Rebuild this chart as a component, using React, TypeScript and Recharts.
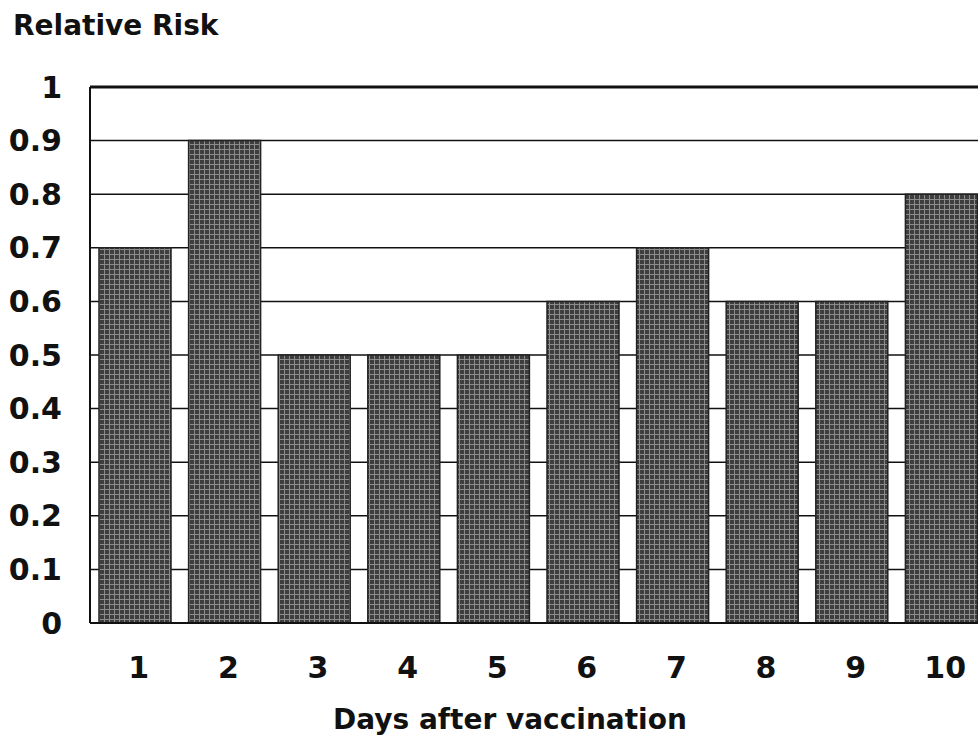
import { Bar, BarChart, CartesianGrid, ReferenceLine, XAxis, YAxis } from 'recharts';

const days = ['1', '2', '3', '4', '5', '6', '7', '8', '9', '10'];
const relativeRisk = [0.7, 0.9, 0.5, 0.5, 0.5, 0.6, 0.7, 0.6, 0.6, 0.8];
const yTicks = [0, 0.1, 0.2, 0.3, 0.4, 0.5, 0.6, 0.7, 0.8, 0.9, 1];

const rows = days.map((day, i) => ({ day, risk: relativeRisk[i] }));

const font = '"DejaVu Sans", "Liberation Sans", Arial, sans-serif';
const tickStyle = { fontFamily: font, fontWeight: 700, fontSize: 30, fill: '#111' };

const App = () => (
  <div style={{ position: 'absolute', left: 0, top: 0, width: 978, height: 742, overflow: 'hidden', background: '#fff' }}>
    <div style={{ position: 'absolute', left: 13, top: 12, fontFamily: font, fontWeight: 700, fontSize: 28, lineHeight: 1, color: '#111' }}>
      Relative Risk
    </div>
    <BarChart width={1000} height={742} data={rows} margin={{ top: 87, right: 14, bottom: 0, left: 0 }}>
      <defs>
        <pattern id="dots" width="5" height="5" patternUnits="userSpaceOnUse">
          <rect width="5" height="5" fill="#3e3e3e" />
          <rect x="4" width="1" height="5" fill="#8c8c8c" />
          <rect y="4" width="5" height="1" fill="#8c8c8c" />
        </pattern>
      </defs>
      <CartesianGrid vertical={false} stroke="#111" strokeWidth={1.5} strokeOpacity={1} />
      <XAxis
        dataKey="day"
        height={119}
        tickSize={0}
        tickMargin={34}
        tick={{ ...tickStyle, dx: 4 }}
        axisLine={{ stroke: '#111', strokeWidth: 2 }}
        tickLine={false}
      />
      <YAxis
        type="number"
        domain={[0, 1]}
        ticks={yTicks}
        interval={0}
        width={90}
        tickSize={0}
        tickMargin={28}
        tick={tickStyle}
        axisLine={{ stroke: '#111', strokeWidth: 2 }}
        tickLine={false}
        tickFormatter={(v: number) => String(Math.round(v * 10) / 10)}
      />
      <ReferenceLine y={1} stroke="#111" strokeWidth={3} ifOverflow="extendDomain" />
      <Bar dataKey="risk" barSize={72} fill="url(#dots)" stroke="#222" strokeWidth={1.5} isAnimationActive={false} />
    </BarChart>
    <div style={{ position: 'absolute', left: 333, top: 706, fontFamily: font, fontWeight: 700, fontSize: 28, lineHeight: 1, color: '#111', whiteSpace: 'nowrap' }}>
      Days after vaccination
    </div>
  </div>
);

export default App;
